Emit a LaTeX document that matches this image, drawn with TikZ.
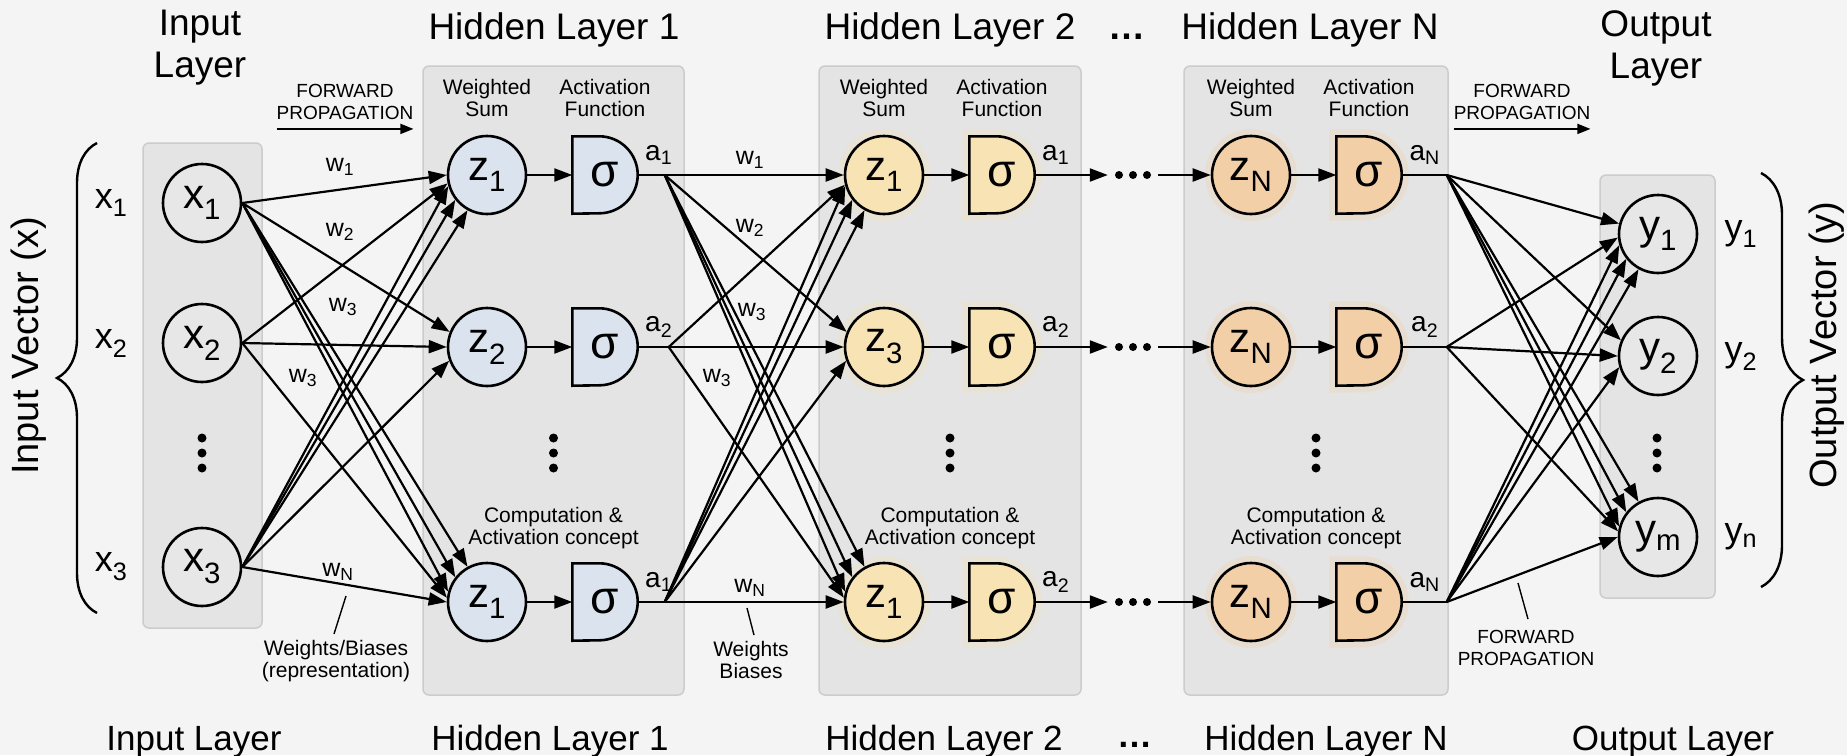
\documentclass[tikz,border=0pt]{standalone}
\usepackage{fontspec}
\setmainfont{Liberation Sans}
\usetikzlibrary{positioning,arrows.meta,decorations.pathreplacing}
\pgfdeclarelayer{back}
\pgfsetlayers{back,main}

\definecolor{paper}{RGB}{244,244,244}
\definecolor{panel}{RGB}{228,228,228}
\definecolor{panelline}{RGB}{204,204,204}
\definecolor{greycell}{RGB}{231,231,231}
\definecolor{bluecell}{RGB}{219,228,238}
\definecolor{yellowcell}{RGB}{247,227,180}
\definecolor{peachcell}{RGB}{243,207,167}

\begin{document}
\begin{tikzpicture}[x=1pt, y=-1pt, node distance=118pt,
    panelbox/.style={rectangle, rounded corners=6pt, draw=panelline, fill=panel, line width=1.5pt},
    neuron/.style={circle, draw, line width=2.6pt, minimum size=78pt, inner sep=0pt, font=\fontsize{42}{42}\selectfont},
    actgate/.style={rectangle, minimum width=65pt, minimum height=77pt, inner sep=0pt, font=\fontsize{46}{46}\selectfont},
    dgate/.style={draw, line width=2.6pt},
    glow/.style={preaction={draw=#1, line width=14pt, draw opacity=0.3}},
    layertitle/.style={font=\fontsize{37}{42}\selectfont, align=center},
    layerfoot/.style={font=\fontsize{35}{40}\selectfont},
    vectitle/.style={font=\fontsize{38}{40}\selectfont, rotate=90},
    note/.style={font=\fontsize{21}{22}\selectfont, align=center, inner sep=0pt},
    caps/.style={font=\fontsize{19}{22}\selectfont, align=center, inner sep=0pt},
    wlabel/.style={font=\fontsize{25}{25}\selectfont, inner sep=0pt},
    alabel/.style={font=\fontsize{28}{28}\selectfont, inner sep=0pt},
    sidelabel/.style={font=\fontsize{36}{36}\selectfont, inner sep=0pt},
    gapdots/.style={minimum width=50pt, minimum height=10pt, inner sep=0pt},
    conn/.style={-{Triangle[length=18pt,width=13pt]}, line width=2.2pt},
    fwd/.style={-{Triangle[length=13pt,width=10pt]}, line width=1.6pt},
    lead/.style={line width=1.4pt}]

% Paper and layer panels
\begin{pgfonlayer}{back}
\fill[paper] (0,0) rectangle (1847,755);
\node[panelbox, minimum width=119pt, minimum height=485pt] (inbox) at (202.5,385.5) {};
\node[panelbox, minimum width=261pt, minimum height=629pt] (hbox1) at (553.5,380.5) {};
\node[panelbox, minimum width=262pt, minimum height=629pt] (hbox2) at (950,380.5) {};
\node[panelbox, minimum width=264pt, minimum height=629pt] (hboxN) at (1316,380.5) {};
\node[panelbox, minimum width=115pt, minimum height=423pt] (outbox) at (1657.5,386.5) {};
\end{pgfonlayer}
\useasboundingbox (0,0) rectangle (1847,755);

% Titles
\node[layertitle] (tin) at (200,48) {Input\\Layer};
\node[layertitle, anchor=base] (th1) at (554,39.5) {Hidden Layer 1};
\node[layertitle, anchor=base] (th2) at (950,39.5) {Hidden Layer 2};
\node[layertitle, anchor=base] (tdots) at (1127,39.5) {\textbf{…}};
\node[layertitle, anchor=base] (thN) at (1310,39.5) {Hidden Layer N};
\node[layertitle] (tout) at (1656,48) {Output\\Layer};
\node[layerfoot, anchor=base] (fin) at (194,750) {Input Layer};
\node[layerfoot, anchor=base] (fh1) at (550,750) {Hidden Layer 1};
\node[layerfoot, anchor=base] (fh2) at (944,750) {Hidden Layer 2};
\node[layerfoot, anchor=base] (fdots) at (1135,747) {\textbf{…}};
\node[layerfoot, anchor=base] (fhN) at (1326,750) {Hidden Layer N};
\node[layerfoot, anchor=base] (fout) at (1673,750) {Output Layer};

% Vector braces
\node[vectitle] (vin) at (29,346) {Input Vector (x)};
\node[vectitle] (vout) at (1827,345) {Output Vector (y)};
\draw[line width=2.4pt, decorate, decoration={brace, amplitude=40pt}] (97,613) -- (97,143);
\draw[line width=2.4pt, decorate, decoration={brace, amplitude=42pt}] (1761,173) -- (1761,587);

% Input layer
\node[neuron, fill=greycell] (x1) at (202,203) {x\textsubscript{1}};
\node[neuron, fill=greycell] (x2) at (202,343) {x\textsubscript{2}};
\node[neuron, fill=greycell] (x3) at (202,567) {x\textsubscript{3}};
\node[sidelabel, left=34pt of x1] (lx1) {x\textsubscript{1}};
\node[sidelabel, left=34pt of x2] (lx2) {x\textsubscript{2}};
\node[sidelabel, left=34pt of x3] (lx3) {x\textsubscript{3}};
\fill (202,438) circle (4.5pt) (202,453) circle (4.5pt) (202,468) circle (4.5pt);

% Hidden layer 1
\node[neuron, fill=bluecell] (z11) at (487,175) {z\textsubscript{1}};
\node[neuron, fill=bluecell] (z12) at (487,347) {z\textsubscript{2}};
\node[neuron, fill=bluecell] (z13) at (487,602) {z\textsubscript{1}};
\node[actgate, right of=z11] (s11) {σ};
\node[actgate, right of=z12] (s12) {σ};
\node[actgate, right of=z13] (s13) {σ};
\node[note] (ws1) at ([yshift=77pt]z11) {Weighted\\Sum};
\node[note] (af1) at ([yshift=77pt]s11) {Activation\\Function};
\node[note] (cc1) at ([yshift=-147.5pt]hbox1.center) {Computation \&\\Activation concept};
\node[alabel] (a11) at ([xshift=21pt,yshift=20pt]s11.east) {a\textsubscript{1}};
\node[alabel] (a12) at ([xshift=21pt,yshift=20pt]s12.east) {a\textsubscript{2}};
\node[alabel] (a13) at ([xshift=21pt,yshift=20pt]s13.east) {a\textsubscript{1}};
\coordinate (j11) at ([xshift=27pt]s11.east);
\coordinate (j12) at ([xshift=31pt]s12.east);
\coordinate (j13) at ([xshift=27pt]s13.east);
\fill (553.5,438) circle (4.5pt) (553.5,453) circle (4.5pt) (553.5,468) circle (4.5pt);

% Hidden layer 2
\node[neuron, fill=yellowcell, glow=yellowcell] (z21) at (884,175) {z\textsubscript{1}};
\node[neuron, fill=yellowcell, glow=yellowcell] (z22) at (884,347) {z\textsubscript{3}};
\node[neuron, fill=yellowcell, glow=yellowcell] (z23) at (884,602) {z\textsubscript{1}};
\node[actgate, right of=z21] (s21) {σ};
\node[actgate, right of=z22] (s22) {σ};
\node[actgate, right of=z23] (s23) {σ};
\node[note] (ws2) at ([yshift=77pt]z21) {Weighted\\Sum};
\node[note] (af2) at ([yshift=77pt]s21) {Activation\\Function};
\node[note] (cc2) at ([yshift=-147.5pt]hbox2.center) {Computation \&\\Activation concept};
\node[alabel] (a21) at ([xshift=21pt,yshift=20pt]s21.east) {a\textsubscript{1}};
\node[alabel] (a22) at ([xshift=21pt,yshift=20pt]s22.east) {a\textsubscript{2}};
\node[alabel] (a23) at ([xshift=21pt,yshift=20pt]s23.east) {a\textsubscript{2}};
\fill (950,438) circle (4.5pt) (950,453) circle (4.5pt) (950,468) circle (4.5pt);

% Skipped layers
\node[gapdots] (g1) at (1133,175) {};
\node[gapdots] (g2) at (1133,347) {};
\node[gapdots] (g3) at (1133,602) {};
\fill (g1) circle (4pt) ([xshift=-14pt]g1) circle (4pt) ([xshift=14pt]g1) circle (4pt);
\fill (g2) circle (4pt) ([xshift=-14pt]g2) circle (4pt) ([xshift=14pt]g2) circle (4pt);
\fill (g3) circle (4pt) ([xshift=-14pt]g3) circle (4pt) ([xshift=14pt]g3) circle (4pt);

% Hidden layer N
\node[neuron, fill=peachcell, glow=peachcell] (zN1) at (1251,175) {z\textsubscript{N}};
\node[neuron, fill=peachcell, glow=peachcell] (zN2) at (1251,347) {z\textsubscript{N}};
\node[neuron, fill=peachcell, glow=peachcell] (zN3) at (1251,602) {z\textsubscript{N}};
\node[actgate, right of=zN1] (sN1) {σ};
\node[actgate, right of=zN2] (sN2) {σ};
\node[actgate, right of=zN3] (sN3) {σ};
\node[note] (wsN) at ([yshift=77pt]zN1) {Weighted\\Sum};
\node[note] (afN) at ([yshift=77pt]sN1) {Activation\\Function};
\node[note] (ccN) at ([yshift=-147.5pt]hboxN.center) {Computation \&\\Activation concept};
\node[alabel] (aN1) at ([xshift=23pt,yshift=20pt]sN1.east) {a\textsubscript{N}};
\node[alabel] (aN2) at ([xshift=23pt,yshift=20pt]sN2.east) {a\textsubscript{2}};
\node[alabel] (aN3) at ([xshift=23pt,yshift=20pt]sN3.east) {a\textsubscript{N}};
\coordinate (jN1) at ([xshift=45pt]sN1.east);
\coordinate (jN2) at ([xshift=45pt]sN2.east);
\coordinate (jN3) at ([xshift=45pt]sN3.east);
\fill (1316,438) circle (4.5pt) (1316,453) circle (4.5pt) (1316,468) circle (4.5pt);

% Output layer
\node[neuron, fill=greycell] (y1) at (1658,234) {y\textsubscript{1}};
\node[neuron, fill=greycell] (y2) at (1658,356) {y\textsubscript{2}};
\node[neuron, fill=greycell] (ym) at (1658,537) {y\textsubscript{m}};
\node[sidelabel, right=26pt of y1] (ly1) {y\textsubscript{1}};
\node[sidelabel, right=26pt of y2] (ly2) {y\textsubscript{2}};
\node[sidelabel, right=26pt of ym] (lyn) {y\textsubscript{n}};
\fill (1657,438) circle (4.5pt) (1657,453) circle (4.5pt) (1657,468) circle (4.5pt);

% D-shaped activation units behind the sigma labels
\begin{pgfonlayer}{back}
\foreach \g/\c in {s11/bluecell, s12/bluecell, s13/bluecell}
  \draw[dgate, fill=\c] (\g.north west) -- ([xshift=-38.5pt]\g.north east) arc[start angle=90, end angle=-90, radius=38.5pt] -- (\g.south west) -- cycle;
\foreach \g/\c in {s21/yellowcell, s22/yellowcell, s23/yellowcell, sN1/peachcell, sN2/peachcell, sN3/peachcell}
  \draw[dgate, fill=\c, glow=\c] (\g.north west) -- ([xshift=-38.5pt]\g.north east) arc[start angle=90, end angle=-90, radius=38.5pt] -- (\g.south west) -- cycle;
\end{pgfonlayer}

% Forward propagation notes
\node[caps] (fw1) at (345,102) {FORWARD\\PROPAGATION};
\node[caps] (fw2) at (1522,102) {FORWARD\\PROPAGATION};
\node[caps] (fw3) at (1526,648) {FORWARD\\PROPAGATION};
\draw[fwd] ([yshift=-9pt]fw1.south west) -- ([yshift=-9pt]fw1.south east);
\draw[fwd] ([yshift=-9pt]fw2.south west) -- ([yshift=-9pt]fw2.south east);
\coordinate (fw3p) at (1518,583);
\draw[lead] (fw3p) -- ([xshift=2pt,yshift=11pt]fw3.north);

% Weight labels
\node[wlabel] (w01) at (340,167) {w\textsubscript{1}};
\node[wlabel] (w02) at (340,232) {w\textsubscript{2}};
\node[wlabel] (w03) at (343,307) {w\textsubscript{3}};
\node[wlabel] (w03b) at (303,378) {w\textsubscript{3}};
\node[wlabel] (w0N) at (338,572) {w\textsubscript{N}};
\node[wlabel] (w11) at (750,160) {w\textsubscript{1}};
\node[wlabel] (w12) at (750,228) {w\textsubscript{2}};
\node[wlabel] (w13) at (752,312) {w\textsubscript{3}};
\node[wlabel] (w13b) at (717,378) {w\textsubscript{3}};
\node[wlabel] (w1N) at (750,588) {w\textsubscript{N}};
\node[note] (wb1) at (336,661) {Weights/Biases\\(representation)};
\node[note] (wb2) at (751,660) {Weights\\Biases};
\coordinate (wb1p) at (346,596);
\coordinate (wb2p) at (747,608);
\draw[lead] (wb1p) -- ([xshift=-2pt,yshift=6pt]wb1.north);
\draw[lead] (wb2p) -- ([xshift=3pt,yshift=6pt]wb2.north);

% Connections: input layer -> hidden layer 1
\draw[conn] (x1.east) -- (z11.180);
\draw[conn] (x1.east) -- (z12.158);
\draw[conn] (x1.east) -- (z13.119);
\draw[conn] (x1.east) -- (z13.142);
\draw[conn] (x1.east) -- (z13.165);
\draw[conn] (x2.east) -- (z11.192);
\draw[conn] (x2.east) -- (z12.west);
\draw[conn] (x2.east) -- (z13.174);
\draw[conn] (x3.east) -- (z11.196);
\draw[conn] (x3.east) -- (z11.218);
\draw[conn] (x3.east) -- (z11.241);
\draw[conn] (x3.east) -- (z12.200);
\draw[conn] (x3.east) -- (z13.west);

% Connections: inside the hidden layers
\draw[conn] (z11) -- (s11);
\draw[conn] (z12) -- (s12);
\draw[conn] (z13) -- (s13);
\draw[conn] (z21) -- (s21);
\draw[conn] (z22) -- (s22);
\draw[conn] (z23) -- (s23);
\draw[conn] (zN1) -- (sN1);
\draw[conn] (zN2) -- (sN2);
\draw[conn] (zN3) -- (sN3);
\draw[line width=2.2pt] (s11) -- (j11);
\draw[line width=2.2pt] (s12) -- (j12);
\draw[line width=2.2pt] (s13) -- (j13);
\draw[line width=2.2pt] (sN1) -- (jN1);
\draw[line width=2.2pt] (sN2) -- (jN2);
\draw[line width=2.2pt] (sN3) -- (jN3);

% Connections: hidden layer 1 -> hidden layer 2
\draw[conn] (j11) -- (z21.west);
\draw[conn] (j11) -- (z22.158);
\draw[conn] (j11) -- (z23.119);
\draw[conn] (j11) -- (z23.142);
\draw[conn] (j11) -- (z23.165);
\draw[conn] (j12) -- (z21.194);
\draw[conn] (j12) -- (z22.west);
\draw[conn] (j12) -- (z23.174);
\draw[conn] (j13) -- (z21.196);
\draw[conn] (j13) -- (z21.218);
\draw[conn] (j13) -- (z21.241);
\draw[conn] (j13) -- (z22.200);
\draw[conn] (j13) -- (z23.west);

% Connections: hidden layer 2 -> ... -> hidden layer N
\draw[conn] (s21) -- (g1);
\draw[conn] (s22) -- (g2);
\draw[conn] (s23) -- (g3);
\draw[conn] (g1) -- (zN1);
\draw[conn] (g2) -- (zN2);
\draw[conn] (g3) -- (zN3);

% Connections: hidden layer N -> output layer
\draw[conn] (jN1) -- (y1.165);
\draw[conn] (jN1) -- (y2.157);
\draw[conn] (jN1) -- (ym.119);
\draw[conn] (jN1) -- (ym.142);
\draw[conn] (jN1) -- (ym.165);
\draw[conn] (jN2) -- (y1.185);
\draw[conn] (jN2) -- (y2.west);
\draw[conn] (jN2) -- (ym.172);
\draw[conn] (jN3) -- (y1.196);
\draw[conn] (jN3) -- (y1.218);
\draw[conn] (jN3) -- (y1.241);
\draw[conn] (jN3) -- (y2.196);
\draw[conn] (jN3) -- (ym.west);

\end{tikzpicture}
\end{document}
